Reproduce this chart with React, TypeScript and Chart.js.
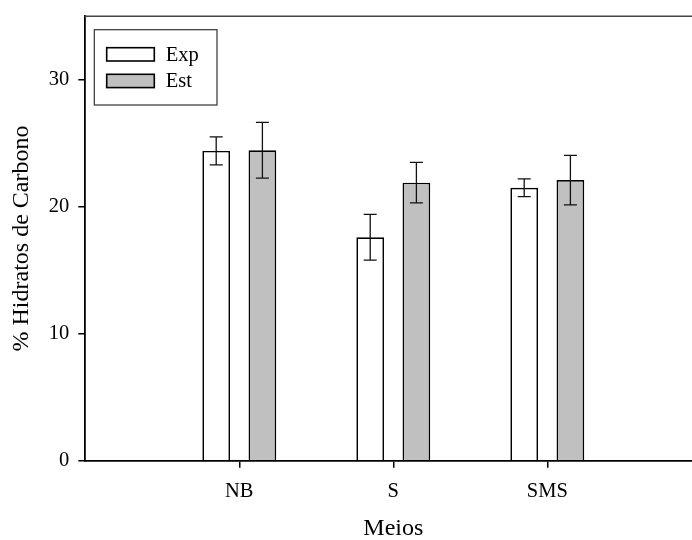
import React, { useEffect, useRef } from 'react';
import { Chart, registerables } from 'chart.js';

Chart.register(...registerables);

const categories = ['NB', 'S', 'SMS'];
const seriesNames = ['Exp', 'Est'];
const expValues = [24.4, 17.6, 21.5];
const expErrors = [1.1, 1.8, 0.7];
const estValues = [24.45, 21.9, 22.1];
const estErrors = [2.2, 1.6, 1.95];
const yTicks = [0, 10, 20, 30];

const FONT = '"Liberation Serif", "Times New Roman", serif';

const labels = ['', ...categories, ''];
const pad = (arr: number[]) => [null, ...arr, null];

const errorBarPlugin = {
  id: 'errorBars',
  afterDatasetsDraw(chart: any) {
    const ctx = chart.ctx;
    const yScale = chart.scales.y;
    chart.data.datasets.forEach((ds: any, di: number) => {
      const meta = chart.getDatasetMeta(di);
      const errs = ds.errors as (number | null)[];
      meta.data.forEach((el: any, i: number) => {
        const v = ds.data[i];
        const e = errs[i];
        if (v == null || e == null) return;
        const x = el.x;
        const yTop = yScale.getPixelForValue(v + e);
        const yBot = yScale.getPixelForValue(v - e);
        const half = 6.5;
        ctx.save();
        ctx.strokeStyle = '#111';
        ctx.lineWidth = 1.3;
        ctx.beginPath();
        ctx.moveTo(x, yTop);
        ctx.lineTo(x, yBot);
        ctx.moveTo(x - half, yTop);
        ctx.lineTo(x + half, yTop);
        ctx.moveTo(x - half, yBot);
        ctx.lineTo(x + half, yBot);
        ctx.stroke();
        ctx.restore();
      });
    });
  },
};

const frameLegendPlugin = {
  id: 'frameLegend',
  afterDraw(chart: any) {
    const ctx = chart.ctx;
    const { left, right, top } = chart.chartArea;
    ctx.save();
    // top frame line
    ctx.strokeStyle = '#444';
    ctx.lineWidth = 1.5;
    ctx.beginPath();
    ctx.moveTo(left - 0.9, top);
    ctx.lineTo(right, top);
    ctx.stroke();

    // legend box
    const bx = left + 9;
    const by = top + 13.4;
    const bw = 122.7;
    const bh = 75.3;
    ctx.strokeStyle = '#333';
    ctx.lineWidth = 1.2;
    ctx.strokeRect(bx, by, bw, bh);

    ctx.font = `20.5px ${FONT}`;
    ctx.textBaseline = 'middle';
    ctx.textAlign = 'left';
    chart.data.datasets.forEach((ds: any, i: number) => {
      const sx = bx + 12.4;
      const sy = by + 18 + i * 26.6;
      ctx.fillStyle = ds.backgroundColor;
      ctx.fillRect(sx, sy, 47.6, 13.3);
      ctx.strokeStyle = '#000';
      ctx.lineWidth = 1.6;
      ctx.strokeRect(sx, sy, 47.6, 13.3);
      ctx.fillStyle = '#000';
      ctx.fillText(ds.label, sx + 59, sy + 7.5);
    });
    ctx.restore();
  },
};

export default function App() {
  const canvasRef = useRef<HTMLCanvasElement | null>(null);

  useEffect(() => {
    if (!canvasRef.current) return;
    Chart.defaults.font.family = FONT;
    Chart.defaults.font.size = 20;
    Chart.defaults.color = '#000';
    const chart = new Chart(canvasRef.current, {
      type: 'bar',
      data: {
        labels,
        datasets: [
          {
            label: seriesNames[0],
            data: pad(expValues) as any,
            errors: pad(expErrors),
            backgroundColor: '#ffffff',
            borderColor: '#000000',
            borderWidth: 1.7,
          } as any,
          {
            label: seriesNames[1],
            data: pad(estValues) as any,
            errors: pad(estErrors),
            backgroundColor: '#c0c0c0',
            borderColor: '#000000',
            borderWidth: 1.7,
          } as any,
        ],
      },
      options: {
        animation: false,
        responsive: false,
        devicePixelRatio: 1,
        layout: { padding: { left: 0, top: 16.3, right: 18.7, bottom: 0 } },
        datasets: {
          bar: { categoryPercentage: 0.6, barPercentage: 0.6 },
        },
        plugins: {
          legend: { display: false },
          tooltip: { enabled: false },
        },
        scales: {
          x: {
            type: 'category',
            offset: false,
            grid: {
              offset: false,
              drawOnChartArea: false,
              tickLength: 7,
              lineWidth: 1.5,
              tickColor: (c: any) =>
                c.index === 0 || c.index === labels.length - 1 ? 'rgba(0,0,0,0)' : '#000',
            },
            border: { display: true, color: '#000', width: 1.8 },
            ticks: { padding: 12, color: '#000', font: { size: 20.5 }, maxRotation: 0, autoSkip: false },
            title: {
              display: true,
              text: 'Meios',
              font: { size: 24, lineHeight: 1 },
              padding: { top: 0, bottom: -1 },
            },
            afterFit: (s: any) => {
              s.height = 79.3;
              s.paddingLeft = 0;
              s.paddingRight = 0;
            },
          },
          y: {
            min: 0,
            max: 35,
            afterBuildTicks: (s: any) => {
              s.ticks = yTicks.map((v) => ({ value: v }));
            },
            grid: {
              drawOnChartArea: false,
              tickLength: 7,
              lineWidth: 1.5,
              tickColor: '#000',
            },
            border: { display: true, color: '#000', width: 1.8 },
            ticks: { padding: 9, color: '#000', font: { size: 20.5 } },
            title: {
              display: true,
              text: '% Hidratos de Carbono',
              font: { size: 24, lineHeight: 1 },
              padding: { top: 10, bottom: 0 },
            },
            afterFit: (s: any) => {
              s.width = 85.3;
              s.paddingTop = 0;
              s.paddingBottom = 0;
            },
          },
        },
      },
      plugins: [errorBarPlugin, frameLegendPlugin],
    });
    return () => chart.destroy();
  }, []);

  return (
    <div
      style={{
        position: 'absolute',
        left: 0,
        top: 0,
        width: 692,
        height: 540,
        overflow: 'hidden',
        background: '#fff',
      }}
    >
      <canvas ref={canvasRef} width={720} height={540} style={{ display: 'block' }} />
    </div>
  );
}
